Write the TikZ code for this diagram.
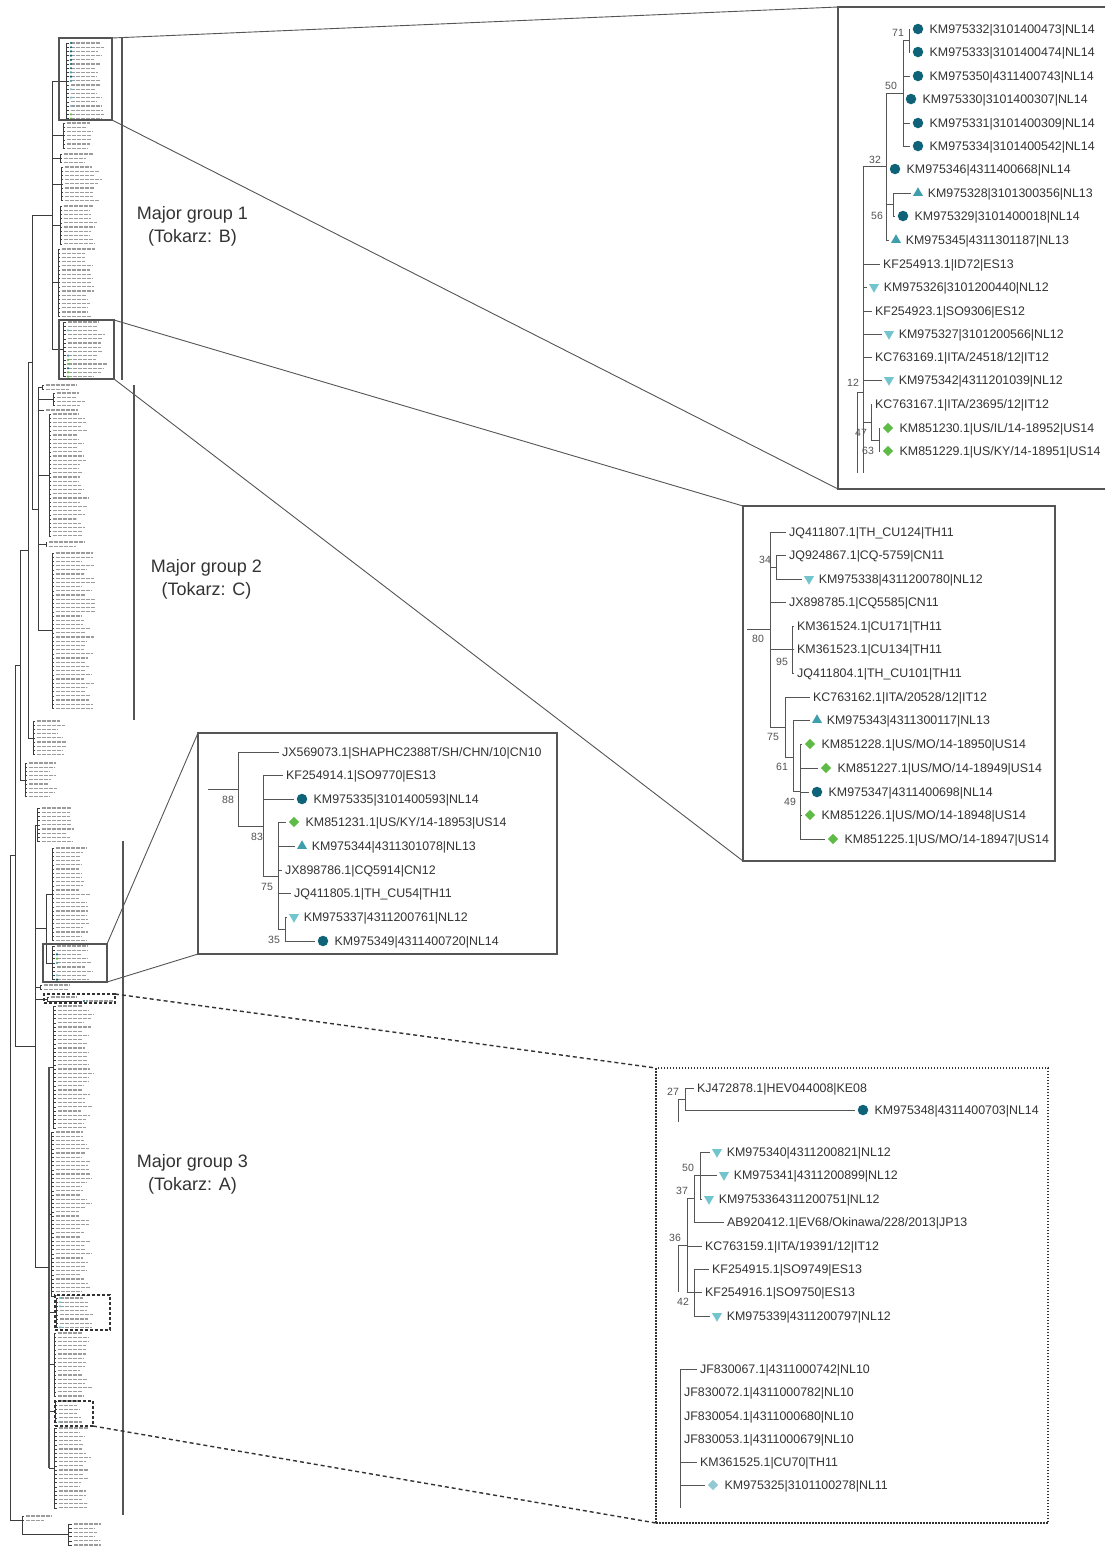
\documentclass[tikz,border=0pt]{standalone}
\usepackage{fontspec}
\setmainfont{Liberation Sans}
\usetikzlibrary{positioning,shapes.geometric}
\definecolor{PTLine}{HTML}{555555}
\definecolor{PTDark}{HTML}{3C3C3C}
\definecolor{PTText}{HTML}{333333}
\definecolor{PTTiny}{HTML}{9C9C9C}
\definecolor{PTNL14}{HTML}{0E6378}
\definecolor{PTNL13}{HTML}{3F9EAC}
\definecolor{PTNL12}{HTML}{72C5CD}
\definecolor{PTNL11}{HTML}{92C9D2}
\definecolor{PTUS14}{HTML}{5DBB46}

\begin{document}
\begin{tikzpicture}[x=1pt,y=-1pt,
  leaf/.style={anchor=west,inner sep=0pt,text height=8.8pt,text depth=0pt,font=\fontsize{12.4}{14}\selectfont,text=PTText},
  boot/.style={inner sep=0pt,font=\fontsize{10.5}{12}\selectfont,text=PTText!85},
  br/.style={draw=PTLine,line width=0.9pt,shorten >=3pt},
  ln/.style={draw=PTLine,line width=0.9pt},
  tbr/.style={draw=PTDark,line width=0.5pt},
  ttxt/.style={draw=PTTiny,line width=1.3pt,dash pattern=on 0.9pt off 0.35pt},
  gbar/.style={draw=PTLine,line width=2.2pt},
  grp/.style={align=center,font=\fontsize{18}{23}\selectfont,text=PTText},
  nl14/.style={circle,fill=PTNL14,minimum size=10.5pt,inner sep=0pt},
  nl13/.style={regular polygon,regular polygon sides=3,fill=PTNL13,minimum size=11.5pt,inner sep=0pt},
  nl12/.style={regular polygon,regular polygon sides=3,shape border rotate=180,fill=PTNL12,minimum size=11.5pt,inner sep=0pt},
  us14/.style={diamond,fill=PTUS14,minimum size=10.5pt,inner sep=0pt},
  nl11/.style={diamond,fill=PTNL11,minimum size=10.5pt,inner sep=0pt},
  zbox/.style={draw=PTLine,line width=1.1pt,inner sep=0pt,outer sep=0pt},
  dbox/.style={draw=black!80,line width=1.6pt,dash pattern=on 3pt off 2pt,inner sep=0pt,outer sep=0pt},
  ibox/.style={draw=black!80,line width=1.2pt,dash pattern=on 1.5pt off 1.5pt,inner sep=0pt,outer sep=0pt},
  zline/.style={draw=PTLine,line width=0.9pt},
  dline/.style={draw=black!80,line width=1.4pt,dash pattern=on 4pt off 3pt}
]
\fill[white] (0,0) rectangle (1104,1551);
\useasboundingbox (0,0) rectangle (1104,1551);

% overview tree
\pgfmathsetseed{11}
\foreach \y/\ny/\xv/\xl/\tl/\xp in {43/19/66/69/34/52, 123/7/63/65/28/52, 154/3/60/62/30/52,
  167/9/61/63/40/52, 206/10/60/62/38/52, 249/17/58/60/34/52, 322/14/63/66/40/52,
  385/2/42/44/32/38, 393/4/53/55/30/38, 410/1/43/44/44/38, 414/30/49/51/36/38,
  542/2/46/47/40/38, 553/38/52/54/40/38, 721/9/33/35/32/28, 763/9/25/27/30/20,
  808/9/37/40/32/35, 848/23/52/54/34/46, 946/9/52/55/36/46, 985/2/40/42/30/35,
  1006/30/53/56/36/49, 1132/40/51/54/36/49, 1298/8/56/58/36/49, 1333/16/54/56/34/49,
  1401/6/55/57/28/49, 1428/20/54/57/32/49, 1516/2/22/24/28/22, 1524/6/68/72/30/68}{
  \pgfmathsetmacro\ylast{\y+(\ny-1)*4.2}
  \pgfmathsetmacro\ymid{\y+(\ny-1)*2.1}
  \draw[tbr] (\xv,\y) -- (\xv,\ylast);
  \draw[tbr] (\xp,\ymid) -- (\xv,\ymid);
  \foreach \i in {1,...,\ny}{
    \pgfmathsetmacro\yy{\y+(\i-1)*4.2}
    \pgfmathsetmacro\ll{\tl*(0.65+0.35*rnd)}
    \draw[tbr] (\xv,\yy) -- (\xl,\yy);
    \draw[ttxt] (\xl+1.5,\yy) -- ++(\ll,0);
  }
}
\foreach \x/\ya/\yb in {52/80.8/349.3, 38/387.1/630.7, 32/215.05/508.9, 28/361.98/737.8,
  20/549.89/779.8, 46/894.2/962.8, 35/824.8/1267.4, 15/664.85/1046.1, 10/855.5/1520}
  \draw[tbr] (\x,\ya) -- (\x,\yb);
\draw[tbr,draw=PTLine,line width=1.6pt] (49,1066.9) -- (49,1467.9);
\foreach \y/\xa/\xb in {215.05/32/52, 508.9/32/38, 361.98/28/32, 549.89/20/28, 928.5/35/46,
  999/35/47, 1267.4/35/49, 664.85/15/20, 1046.1/15/35, 855.5/10/15, 1520/10/22}
  \draw[tbr] (\xa,\y) -- (\xb,\y);
\draw[tbr] (47,997) -- (47,1001) (47,997) -- (49,997) (47,1001) -- (82,1001);
\draw[ttxt] (50.5,997) -- ++(26,0) (86,1001) -- ++(27,0);
\draw[tbr] (22,1516) -- (22,1534.5) -- (68,1534.5);
\foreach \x/\y/\c in {71/43/PTNL14, 71/47.2/PTNL14, 71/51.4/PTNL14, 71/55.6/PTNL14, 71/59.8/PTNL14,
  71/64/PTNL14, 71/68.2/PTNL14, 71/72.4/PTNL13, 71/76.6/PTNL14, 71/80.8/PTNL13, 71/89.2/PTNL12,
  71/97.6/PTNL12, 71/106/PTNL12, 71/114.4/PTUS14, 71/118.6/PTUS14,
  68/330.4/PTNL12, 68/355.6/PTNL13, 68/359.8/PTUS14, 68/364/PTUS14, 68/368.2/PTNL14,
  68/372.4/PTUS14, 68/376.6/PTUS14,
  57/954.4/PTNL14, 57/958.6/PTUS14, 57/962.8/PTNL13, 57/975.4/PTNL12, 57/979.6/PTNL14,
  84/1001/PTNL14, 60/1298/PTNL12, 60/1302.2/PTNL12, 60/1306.4/PTNL12, 60/1327.4/PTNL12,
  59/1422/PTNL11}
  \fill[\c] (\x,\y) circle[radius=1.2pt];

% group bars and labels
\draw[gbar] (122,37) -- (122,380);
\draw[gbar] (134,385) -- (134,720);
\draw[gbar] (123,841) -- (123,1515);
\node[grp] (grp1) at (192.5,226.5) {Major group 1\\(Tokarz: B)};
\node[grp] (grp2) at (206.5,579) {Major group 2\\(Tokarz: C)};
\node[grp] (grp3) at (192.5,1174.5) {Major group 3\\(Tokarz: A)};

% selection boxes and insets
\node[zbox,minimum width=53pt,minimum height=82pt] (zA1) at (85.5,79) {};
\node[zbox,minimum width=55pt,minimum height=59pt] (zA2) at (86.5,349.5) {};
\node[zbox,minimum width=64pt,minimum height=38pt] (zA3) at (75,963) {};
\node[dbox,minimum width=71pt,minimum height=9pt] (zD1) at (79.5,998.5) {};
\node[dbox,minimum width=55pt,minimum height=35pt] (zD2) at (82.5,1312.5) {};
\node[dbox,minimum width=38pt,minimum height=25pt] (zD3) at (74,1413.5) {};
\node[zbox,minimum width=272pt,minimum height=482pt] (insetTop) at (974,248) {};
\node[zbox,minimum width=312pt,minimum height=355pt] (insetMid) at (899,683.5) {};
\node[zbox,minimum width=359pt,minimum height=221pt] (insetSmall) at (377.5,843.5) {};
\node[ibox,minimum width=392pt,minimum height=455pt] (insetDash) at (852,1295.5) {};
\draw[zline] (zA1.north east) -- (insetTop.north west);
\draw[zline] (zA1.south east) -- (insetTop.south west);
\draw[zline] (zA2.north east) -- (insetMid.north west);
\draw[zline] (zA2.south east) -- (insetMid.south west);
\draw[zline] (zA3.north east) -- (insetSmall.north west);
\draw[zline] (zA3.south east) -- (insetSmall.south west);
\draw[dline] (zD1.north east) -- (insetDash.north west);
\draw[dline] (zD3.south east) -- (insetDash.south west);

% inset: top right
\node[nl14] (t1m) at (918,29) {};
\node[leaf,right=6pt of t1m] (t1) {KM975332|3101400473|NL14};
\node[nl14] (t2m) at (918,52) {};
\node[leaf,right=6pt of t2m] (t2) {KM975333|3101400474|NL14};
\node[nl14] (t3m) at (918,76) {};
\node[leaf,right=6pt of t3m] (t3) {KM975350|4311400743|NL14};
\node[nl14] (t4m) at (911,99) {};
\node[leaf,right=6pt of t4m] (t4) {KM975330|3101400307|NL14};
\node[nl14] (t5m) at (918,123) {};
\node[leaf,right=6pt of t5m] (t5) {KM975331|3101400309|NL14};
\node[nl14] (t6m) at (918,146) {};
\node[leaf,right=6pt of t6m] (t6) {KM975334|3101400542|NL14};
\node[nl14] (t7m) at (895,169) {};
\node[leaf,right=6pt of t7m] (t7) {KM975346|4311400668|NL14};
\node[nl13] (t8m) at (918,193) {};
\node[leaf,right=6pt of t8m] (t8) {KM975328|3101300356|NL13};
\node[nl14] (t9m) at (903,216) {};
\node[leaf,right=6pt of t9m] (t9) {KM975329|3101400018|NL14};
\node[nl13] (t10m) at (896,240) {};
\node[leaf,right=6pt of t10m] (t10) {KM975345|4311301187|NL13};
\node[leaf] (t11) at (883,264) {KF254913.1|ID72|ES13};
\node[nl12] (t12m) at (874,287) {};
\node[leaf,right=6pt of t12m] (t12) {KM975326|3101200440|NL12};
\node[leaf] (t13) at (875,311) {KF254923.1|SO9306|ES12};
\node[nl12] (t14m) at (889,334) {};
\node[leaf,right=6pt of t14m] (t14) {KM975327|3101200566|NL12};
\node[leaf] (t15) at (875,357) {KC763169.1|ITA/24518/12|IT12};
\node[nl12] (t16m) at (889,380) {};
\node[leaf,right=6pt of t16m] (t16) {KM975342|4311201039|NL12};
\node[leaf] (t17) at (875,404) {KC763167.1|ITA/23695/12|IT12};
\node[us14] (t18m) at (888,428) {};
\node[leaf,right=6pt of t18m] (t18) {KM851230.1|US/IL/14-18952|US14};
\node[us14] (t19m) at (888,451) {};
\node[leaf,right=6pt of t19m] (t19) {KM851229.1|US/KY/14-18951|US14};
\draw[ln] (909,29) -- (909,52) (903,40.5) -- (909,40.5) (903,40.5) -- (903,146)
  (886,93) -- (903,93) (886,93) -- (886,240) (886,204.5) -- (893,204.5) (893,193) -- (893,216)
  (863,166.5) -- (886,166.5) (863,166.5) -- (863,473) (857,392) -- (863,392) (857,392) -- (857,473)
  (863,422) -- (871,422) (871,404) -- (871,440) (871,440) -- (879,440) (879,428) -- (879,451);
\draw[br] (909,29) -- (t1m);
\draw[br] (909,52) -- (t2m);
\draw[br] (903,76) -- (t3m);
\draw[br] (903,99) -- (t4m);
\draw[br] (903,123) -- (t5m);
\draw[br] (903,146) -- (t6m);
\draw[br] (886,169) -- (t7m);
\draw[br] (893,193) -- (t8m);
\draw[br] (893,216) -- (t9m);
\draw[br] (886,240) -- (t10m);
\draw[br] (863,264) -- (t11);
\draw[br] (863,287) -- (t12m);
\draw[br] (863,311) -- (t13);
\draw[br] (863,334) -- (t14m);
\draw[br] (863,357) -- (t15);
\draw[br] (863,380) -- (t16m);
\draw[br] (871,404) -- (t17);
\draw[br] (879,428) -- (t18m);
\draw[br] (879,451) -- (t19m);
\node[boot] (bt71) at (898,33) {71};
\node[boot] (bt50) at (891,86) {50};
\node[boot] (bt32) at (875,160) {32};
\node[boot] (bt56) at (877,216) {56};
\node[boot] (bt12) at (853,383) {12};
\node[boot] (bt47) at (861,433) {47};
\node[boot] (bt63) at (868,451) {63};

% inset: middle
\node[leaf] (m1) at (789,532) {JQ411807.1|TH\_CU124|TH11};
\node[leaf] (m2) at (789,555) {JQ924867.1|CQ-5759|CN11};
\node[nl12] (m3m) at (809,579) {};
\node[leaf,right=6pt of m3m] (m3) {KM975338|4311200780|NL12};
\node[leaf] (m4) at (789,602) {JX898785.1|CQ5585|CN11};
\node[leaf] (m5) at (797,626) {KM361524.1|CU171|TH11};
\node[leaf] (m6) at (797,649) {KM361523.1|CU134|TH11};
\node[leaf] (m7) at (797,673) {JQ411804.1|TH\_CU101|TH11};
\node[leaf] (m8) at (813,697) {KC763162.1|ITA/20528/12|IT12};
\node[nl13] (m9m) at (817,720) {};
\node[leaf,right=6pt of m9m] (m9) {KM975343|4311300117|NL13};
\node[us14] (m10m) at (810,744) {};
\node[leaf,right=6pt of m10m] (m10) {KM851228.1|US/MO/14-18950|US14};
\node[us14] (m11m) at (826,768) {};
\node[leaf,right=6pt of m11m] (m11) {KM851227.1|US/MO/14-18949|US14};
\node[nl14] (m12m) at (817,792) {};
\node[leaf,right=6pt of m12m] (m12) {KM975347|4311400698|NL14};
\node[us14] (m13m) at (810,815) {};
\node[leaf,right=6pt of m13m] (m13) {KM851226.1|US/MO/14-18948|US14};
\node[us14] (m14m) at (833,839) {};
\node[leaf,right=6pt of m14m] (m14) {KM851225.1|US/MO/14-18947|US14};
\draw[ln] (747,629.5) -- (770,629.5) (770,532) -- (770,727) (770,567) -- (776,567) (776,555) -- (776,579)
  (770,649.5) -- (792,649.5) (792,626) -- (792,673) (770,727) -- (785,727) (785,697) -- (785,757)
  (785,757) -- (793,757) (793,720) -- (793,791.5) (793,791.5) -- (800,791.5) (800,744) -- (800,839);
\draw[br] (770,532) -- (m1);
\draw[br] (776,555) -- (m2);
\draw[br] (776,579) -- (m3m);
\draw[br] (770,602) -- (m4);
\draw[br] (792,626) -- (m5);
\draw[br] (792,649.5) -- (m6);
\draw[br] (792,673) -- (m7);
\draw[br] (785,697) -- (m8);
\draw[br] (793,720) -- (m9m);
\draw[br] (800,744) -- (m10m);
\draw[br] (800,768) -- (m11m);
\draw[br] (800,792) -- (m12m);
\draw[br] (800,815) -- (m13m);
\draw[br] (800,839) -- (m14m);
\node[boot] (bm34) at (765,560) {34};
\node[boot] (bm80) at (758,639) {80};
\node[boot] (bm95) at (782,662) {95};
\node[boot] (bm75) at (773,737) {75};
\node[boot] (bm61) at (782,767) {61};
\node[boot] (bm49) at (790,802) {49};

% inset: small
\node[leaf] (s1) at (282,752) {JX569073.1|SHAPHC2388T/SH/CHN/10|CN10};
\node[leaf] (s2) at (286,775) {KF254914.1|SO9770|ES13};
\node[nl14] (s3m) at (302,799) {};
\node[leaf,right=6pt of s3m] (s3) {KM975335|3101400593|NL14};
\node[us14] (s4m) at (294,822) {};
\node[leaf,right=6pt of s4m] (s4) {KM851231.1|US/KY/14-18953|US14};
\node[nl13] (s5m) at (302,846) {};
\node[leaf,right=6pt of s5m] (s5) {KM975344|4311301078|NL13};
\node[leaf] (s6) at (285,870) {JX898786.1|CQ5914|CN12};
\node[leaf] (s7) at (294,893) {JQ411805.1|TH\_CU54|TH11};
\node[nl12] (s8m) at (294,917) {};
\node[leaf,right=6pt of s8m] (s8) {KM975337|4311200761|NL12};
\node[nl14] (s9m) at (323,941) {};
\node[leaf,right=6pt of s9m] (s9) {KM975349|4311400720|NL14};
\draw[ln] (208,789) -- (238,789) (238,752) -- (238,826) (238,826) -- (263,826) (263,775) -- (263,876)
  (263,876) -- (278,876) (278,822) -- (278,929) (278,929) -- (285,929) (285,917) -- (285,941);
\draw[br] (238,752) -- (s1);
\draw[br] (263,775) -- (s2);
\draw[br] (263,799) -- (s3m);
\draw[br] (278,822) -- (s4m);
\draw[br] (278,846) -- (s5m);
\draw[br] (278,870) -- (s6);
\draw[br] (278,893) -- (s7);
\draw[br] (285,917) -- (s8m);
\draw[br] (285,941) -- (s9m);
\node[boot] (bs88) at (228,800) {88};
\node[boot] (bs83) at (257,837) {83};
\node[boot] (bs75) at (267,887) {75};
\node[boot] (bs35) at (274,940) {35};

% inset: dashed
\node[leaf] (d1) at (697,1088) {KJ472878.1|HEV044008|KE08};
\node[nl14] (d2m) at (863,1110) {};
\node[leaf,right=6pt of d2m] (d2) {KM975348|4311400703|NL14};
\node[nl12] (d3m) at (717,1152) {};
\node[leaf,right=6pt of d3m] (d3) {KM975340|4311200821|NL12};
\node[nl12] (d4m) at (724,1175) {};
\node[leaf,right=6pt of d4m] (d4) {KM975341|4311200899|NL12};
\node[nl12] (d5m) at (709,1199) {};
\node[leaf,right=6pt of d5m] (d5) {KM9753364311200751|NL12};
\node[leaf] (d6) at (727,1222) {AB920412.1|EV68/Okinawa/228/2013|JP13};
\node[leaf] (d7) at (705,1246) {KC763159.1|ITA/19391/12|IT12};
\node[leaf] (d8) at (712,1269) {KF254915.1|SO9749|ES13};
\node[leaf] (d9) at (705,1292) {KF254916.1|SO9750|ES13};
\node[nl12] (d10m) at (717,1316) {};
\node[leaf,right=6pt of d10m] (d10) {KM975339|4311200797|NL12};
\node[leaf] (d11) at (700,1369) {JF830067.1|4311000742|NL10};
\node[leaf] (d12) at (684,1392) {JF830072.1|4311000782|NL10};
\node[leaf] (d13) at (684,1416) {JF830054.1|4311000680|NL10};
\node[leaf] (d14) at (684,1439) {JF830053.1|4311000679|NL10};
\node[leaf] (d15) at (700,1462) {KM361525.1|CU70|TH11};
\node[nl11] (d16m) at (713,1485) {};
\node[leaf,right=6pt of d16m] (d16) {KM975325|3101100278|NL11};
\draw[ln] (678,1099) -- (685,1099) (685,1088) -- (685,1110) (678,1099) -- (678,1122)
  (700,1152) -- (700,1199) (694,1175.5) -- (700,1175.5) (694,1175.5) -- (694,1222)
  (687,1198.75) -- (694,1198.75) (687,1198.75) -- (687,1292.5) (678,1245.5) -- (687,1245.5)
  (678,1245.5) -- (678,1292) (687,1292.5) -- (694,1292.5) (694,1269) -- (694,1316)
  (680,1369) -- (680,1508);
\draw[br] (685,1088) -- (d1);
\draw[br] (685,1110) -- (d2m);
\draw[br] (700,1152) -- (d3m);
\draw[br] (700,1175) -- (d4m);
\draw[br] (700,1199) -- (d5m);
\draw[br] (694,1222) -- (d6);
\draw[br] (687,1246) -- (d7);
\draw[br] (694,1269) -- (d8);
\draw[br] (694,1292) -- (d9);
\draw[br] (694,1316) -- (d10m);
\draw[br] (680,1369) -- (d11);
\draw[br] (680,1392) -- (d12);
\draw[br] (680,1416) -- (d13);
\draw[br] (680,1439) -- (d14);
\draw[br] (680,1462) -- (d15);
\draw[br] (680,1485) -- (d16m);
\node[boot] (bd27) at (673,1092) {27};
\node[boot] (bd50) at (688,1168) {50};
\node[boot] (bd37) at (682,1191) {37};
\node[boot] (bd36) at (675,1238) {36};
\node[boot] (bd42) at (683,1302) {42};
\end{tikzpicture}
\end{document}
